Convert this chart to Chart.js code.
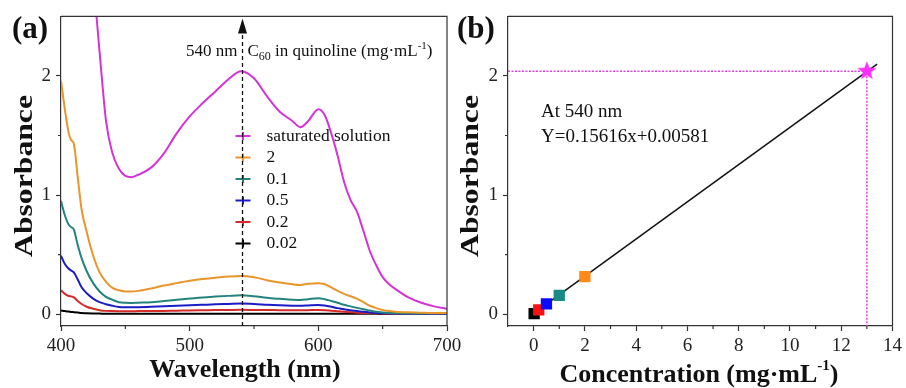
<!DOCTYPE html>
<html>
<head>
<meta charset="utf-8">
<script src="https://cdn.jsdelivr.net/npm/chart.js@4.4.1/dist/chart.umd.min.js"></script>
<style>
  body { margin: 0; background: #fff; width: 906px; height: 388px; position: relative; overflow: hidden; }
  #specChart { position: absolute; left: 0; top: 0; }
  #calibChart { position: absolute; left: 453px; top: 0; }
</style>
</head>
<body>
<canvas id="specChart" width="470" height="388"></canvas>
<canvas id="calibChart" width="453" height="388"></canvas>
<script>
// ---- data, panel (a): UV-vis spectra ----
const wavelengths = [400, 403, 406, 408, 410, 413, 416, 420, 425, 430, 435, 440, 445, 450, 455, 460, 470, 480, 490, 500,
  510, 520, 530, 540, 550, 560, 570, 580, 586, 592, 600, 605, 610, 615, 620, 625, 630, 635, 640, 645, 650, 655, 660, 670, 680, 690, 700];

const absSaturated = [4.6, 4.35, 4.1, 3.95, 3.8, 3.6, 3.4, 3.15, 2.8, 2.2, 1.62, 1.35, 1.22, 1.16, 1.15, 1.17, 1.23, 1.35, 1.52, 1.66,
  1.77, 1.87, 1.97, 2.04, 1.98, 1.83, 1.70, 1.62, 1.57, 1.62, 1.72, 1.67, 1.52, 1.33, 1.11, 0.96, 0.86, 0.70, 0.53, 0.41, 0.31, 0.25, 0.21, 0.14, 0.095, 0.065, 0.045];
const abs2 = [1.96, 1.72, 1.52, 1.46, 1.43, 1.15, 0.88, 0.69, 0.49, 0.35, 0.27, 0.22, 0.20, 0.19, 0.19, 0.195, 0.215, 0.24, 0.26, 0.28,
  0.295, 0.305, 0.315, 0.32, 0.31, 0.285, 0.265, 0.25, 0.245, 0.255, 0.26, 0.25, 0.225, 0.195, 0.17, 0.15, 0.13, 0.10, 0.07, 0.05, 0.035, 0.025, 0.02, 0.015, 0.012, 0.01, 0.01];
const abs01 = [0.95, 0.83, 0.75, 0.73, 0.71, 0.58, 0.47, 0.36, 0.26, 0.19, 0.145, 0.12, 0.10, 0.095, 0.094, 0.096, 0.10, 0.11, 0.12, 0.13,
  0.14, 0.147, 0.153, 0.158, 0.15, 0.137, 0.128, 0.12, 0.118, 0.125, 0.133, 0.125, 0.11, 0.095, 0.078, 0.065, 0.052, 0.04, 0.03, 0.02, 0.014, 0.01, 0.008, 0.006, 0.005, 0.005, 0.005];
const abs05 = [0.49, 0.42, 0.38, 0.365, 0.35, 0.29, 0.225, 0.175, 0.13, 0.10, 0.083, 0.07, 0.06, 0.057, 0.057, 0.058, 0.062, 0.066, 0.07, 0.074,
  0.078, 0.082, 0.085, 0.088, 0.085, 0.079, 0.074, 0.071, 0.07, 0.073, 0.077, 0.072, 0.062, 0.05, 0.04, 0.032, 0.025, 0.02, 0.014, 0.01, 0.007, 0.005, 0.004, 0.003, 0.003, 0.003, 0.003];
const abs02 = [0.20, 0.17, 0.152, 0.148, 0.14, 0.11, 0.085, 0.062, 0.045, 0.033, 0.027, 0.025, 0.024, 0.024, 0.024, 0.025, 0.026, 0.027, 0.029, 0.03,
  0.032, 0.034, 0.035, 0.036, 0.035, 0.034, 0.033, 0.032, 0.032, 0.033, 0.034, 0.032, 0.028, 0.024, 0.02, 0.016, 0.012, 0.009, 0.007, 0.005, 0.004, 0.003, 0.003, 0.003, 0.003, 0.003, 0.003];
const abs002 = [0.03, 0.025, 0.021, 0.018, 0.016, 0.013, 0.01, 0.007, 0.005, 0.004, 0.003, 0.003, 0.003, 0.003, 0.003, 0.003, 0.003, 0.003, 0.003, 0.003,
  0.003, 0.003, 0.003, 0.003, 0.003, 0.003, 0.003, 0.003, 0.003, 0.003, 0.003, 0.003, 0.003, 0.002, 0.002, 0.002, 0.002, 0.002, 0.002, 0.002, 0.001, 0.001, 0.001, 0.001, 0.001, 0.001, 0.001];

const seriesLabels = ['saturated solution', '2', '0.1', '0.5', '0.2', '0.02'];
const seriesColors = ['#d633d6', '#e8962c', '#23837d', '#1c1cc4', '#d42a2a', '#000000'];
const seriesValues = [absSaturated, abs2, abs01, abs05, abs02, abs002];
const markWavelength = 541;

const xTicksA = [400, 500, 600, 700];
const xMinorA = [450, 550, 650];
const yTicks = [0, 1, 2];
const yMinor = [0.5, 1.5];

// ---- data, panel (b): calibration ----
const concentrations = [0.02, 0.2, 0.5, 1, 2];
const absAt540 = [0.004, 0.036, 0.086, 0.157, 0.315];
const pointColors = ['#000000', '#ff1010', '#0a0aff', '#1a8a85', '#ff8a1a'];
const starConc = 13;
const starAbs = 2.04;
const fitX = [0, 13.4];
const fitY = [0.006, 2.1];
const xTicksB = [0, 2, 4, 6, 8, 10, 12, 14];
const xMinorB = [1, 3, 5, 7, 9, 11, 13];

const serif = "'Liberation Serif', 'Times New Roman', serif";
const axisColor = '#333';

// rich text: parts = [{t, size, bold, dy}]; fitW stretches the run to a given length
function drawRich(ctx, parts, x, y, align, fitW) {
  let total = 0;
  parts.forEach(p => {
    ctx.font = (p.bold ? 'bold ' : '') + p.size + 'px ' + serif;
    p.w = ctx.measureText(p.t).width;
    total += p.w;
  });
  const k = fitW ? fitW / total : 1;
  ctx.save();
  ctx.translate(x, y);
  ctx.scale(k, 1);
  let cx = align === 'center' ? -total / 2 : align === 'right' ? -total : 0;
  ctx.textBaseline = 'middle';
  ctx.textAlign = 'left';
  parts.forEach(p => {
    ctx.font = (p.bold ? 'bold ' : '') + p.size + 'px ' + serif;
    ctx.fillText(p.t, cx, p.dy || 0);
    cx += p.w;
  });
  ctx.restore();
}

// frame on top/right plus minor ticks
const frameTicks = {
  id: 'frameTicks',
  afterDraw(chart, args, opts) {
    const { ctx, chartArea: a, scales: { x, y } } = chart;
    ctx.save();
    ctx.strokeStyle = axisColor;
    ctx.lineWidth = 1.2;
    ctx.beginPath();
    ctx.moveTo(a.left, a.top); ctx.lineTo(a.right, a.top); ctx.lineTo(a.right, a.bottom);
    (opts.xMinor || []).forEach(v => {
      const px = x.getPixelForValue(v);
      ctx.moveTo(px, a.bottom); ctx.lineTo(px, a.bottom + 3);
    });
    (opts.yMinor || []).forEach(v => {
      const py = y.getPixelForValue(v);
      ctx.moveTo(a.left, py); ctx.lineTo(a.left - 3, py);
    });
    ctx.stroke();
    ctx.restore();
  }
};

function drawYTitle(ctx, cx, cy) {
  ctx.save();
  ctx.translate(cx, cy);
  ctx.rotate(-Math.PI / 2);
  drawRich(ctx, [{ t: 'Absorbance', size: 25, bold: true }], 0, 0, 'center', 162);
  ctx.restore();
}

const textsA = {
  id: 'textsA',
  afterDatasetsDraw(chart) {
    const { ctx, chartArea: a, scales: { x } } = chart;
    const px = Math.round(x.getPixelForValue(markWavelength)) + 0.5;
    ctx.save();
    // legend
    seriesLabels.forEach((lab, i) => {
      const ly = 136 + i * 21.5;
      ctx.strokeStyle = seriesColors[i];
      ctx.lineWidth = 2;
      ctx.beginPath();
      ctx.moveTo(px - 7, ly); ctx.lineTo(px + 8, ly);
      ctx.moveTo(px + 0.5, ly - 4); ctx.lineTo(px + 0.5, ly + 4);
      ctx.stroke();
      ctx.fillStyle = '#111';
      drawRich(ctx, [{ t: lab, size: 17.5 }], px + 24, ly, 'left');
    });
    // dashed marker with arrow
    ctx.strokeStyle = '#111';
    ctx.lineWidth = 1.3;
    ctx.setLineDash([4, 3]);
    ctx.beginPath();
    ctx.moveTo(px, a.bottom); ctx.lineTo(px, a.top + 16);
    ctx.stroke();
    ctx.setLineDash([]);
    ctx.fillStyle = '#111';
    ctx.beginPath();
    ctx.moveTo(px, a.top + 2); ctx.lineTo(px - 4.5, a.top + 17); ctx.lineTo(px + 4.5, a.top + 17);
    ctx.closePath(); ctx.fill();
    drawRich(ctx, [{ t: '540 nm', size: 17 }], px - 5, 52, 'right');
    drawRich(ctx, [
      { t: 'C', size: 17 }, { t: '60', size: 12, dy: 5 },
      { t: ' in quinoline (mg·mL', size: 17 }, { t: '-1', size: 11, dy: -6 }, { t: ')', size: 17 }
    ], px + 5, 52, 'left');
    // panel label and axis titles
    drawRich(ctx, [{ t: '(a)', size: 31, bold: true }], 12, 30, 'left');
    drawRich(ctx, [{ t: 'Wavelength (nm)', size: 26, bold: true }], 245, 370, 'center');
    drawYTitle(ctx, 26, 176);
    ctx.restore();
  }
};

const textsB = {
  id: 'textsB',
  afterDraw(chart) {
    const { ctx } = chart;
    ctx.save();
    ctx.fillStyle = '#111';
    drawRich(ctx, [{ t: 'At 540 nm', size: 19 }], 88, 112, 'left');
    drawRich(ctx, [{ t: 'Y=0.15616x+0.00581', size: 19 }], 88, 137, 'left');
    drawRich(ctx, [{ t: '(b)', size: 31, bold: true }], 4, 30, 'left');
    drawRich(ctx, [
      { t: 'Concentration (mg·mL', size: 26, bold: true }, { t: '-1', size: 15, bold: true, dy: -9 },
      { t: ')', size: 26, bold: true }
    ], 246, 375, 'center');
    drawYTitle(ctx, 19, 176);
    ctx.restore();
  }
};

function axisBase(min, max, ticks, fitSize, isX) {
  return {
    type: 'linear', min, max,
    afterBuildTicks: s => { s.ticks = ticks.map(v => ({ value: v })); },
    afterFit: s => { if (isX) s.height = fitSize; else s.width = fitSize; },
    grid: { display: true, drawOnChartArea: false, drawTicks: true, tickLength: 5, tickColor: axisColor, tickWidth: 1.2 },
    border: { display: true, color: axisColor, width: 1.2 },
    ticks: {
      color: '#222', font: { family: serif, size: 19 }, padding: isX ? 4 : 5,
      maxRotation: 0, autoSkip: false, callback: v => String(v)
    }
  };
}

Chart.defaults.font.family = serif;

new Chart(document.getElementById('specChart'), {
  type: 'line',
  data: {
    datasets: seriesValues.map((vals, i) => ({
      label: seriesLabels[i],
      data: wavelengths.map((w, j) => ({ x: w, y: vals[j] })),
      borderColor: seriesColors[i],
      borderWidth: 2,
      pointRadius: 0,
      cubicInterpolationMode: 'monotone',
      fill: false
    }))
  },
  options: {
    responsive: false,
    animation: false,
    layout: { padding: { left: 0, right: 23, top: 15, bottom: 0 } },
    plugins: {
      legend: { display: false },
      tooltip: { enabled: false },
      frameTicks: { xMinor: xMinorA, yMinor: yMinor }
    },
    scales: {
      x: axisBase(400, 700, xTicksA, 62, true),
      y: axisBase(-0.1, 2.5, yTicks, 61, false)
    }
  },
  plugins: [frameTicks, textsA]
});

// filled star used as point style
const starImg = document.createElement('canvas');
starImg.width = 22; starImg.height = 22;
(function () {
  const c = starImg.getContext('2d');
  c.fillStyle = '#ff30ff';
  c.beginPath();
  for (let k = 0; k < 10; k++) {
    const r = k % 2 === 0 ? 10 : 4.2;
    const ang = -Math.PI / 2 + k * Math.PI / 5;
    const px = 11 + r * Math.cos(ang), py = 11 + r * Math.sin(ang);
    if (k === 0) c.moveTo(px, py); else c.lineTo(px, py);
  }
  c.closePath();
  c.fill();
})();

const yMinAxis = -0.1;
const xMinB = -1;

new Chart(document.getElementById('calibChart'), {
  type: 'scatter',
  data: {
    datasets: [
      {
        label: 'saturated',
        data: [{ x: starConc, y: starAbs }],
        pointStyle: starImg, pointRadius: 10
      },
      {
        label: 'standards',
        data: concentrations.map((c, i) => ({ x: c, y: absAt540[i] })),
        pointStyle: 'rect', pointRadius: 8, borderWidth: 0,
        pointBackgroundColor: pointColors, pointBorderColor: pointColors
      },
      {
        label: 'fit',
        data: fitX.map((v, i) => ({ x: v, y: fitY[i] })),
        showLine: true, borderColor: '#111', borderWidth: 1.5, pointRadius: 0
      },
      {
        label: 'guide',
        data: [{ x: xMinB, y: starAbs }, { x: starConc, y: starAbs }, { x: starConc, y: yMinAxis }],
        showLine: true, borderColor: '#e040e0', borderWidth: 1.5, borderDash: [2, 1.5], pointRadius: 0
      }
    ]
  },
  options: {
    responsive: false,
    animation: false,
    layout: { padding: { left: 0, right: 13, top: 15, bottom: 0 } },
    plugins: {
      legend: { display: false },
      tooltip: { enabled: false },
      frameTicks: { xMinor: xMinorB, yMinor: yMinor }
    },
    scales: {
      x: axisBase(xMinB, 14, xTicksB, 62, true),
      y: axisBase(yMinAxis, 2.5, yTicks, 55, false)
    }
  },
  plugins: [frameTicks, textsB]
});
</script>
</body>
</html>
